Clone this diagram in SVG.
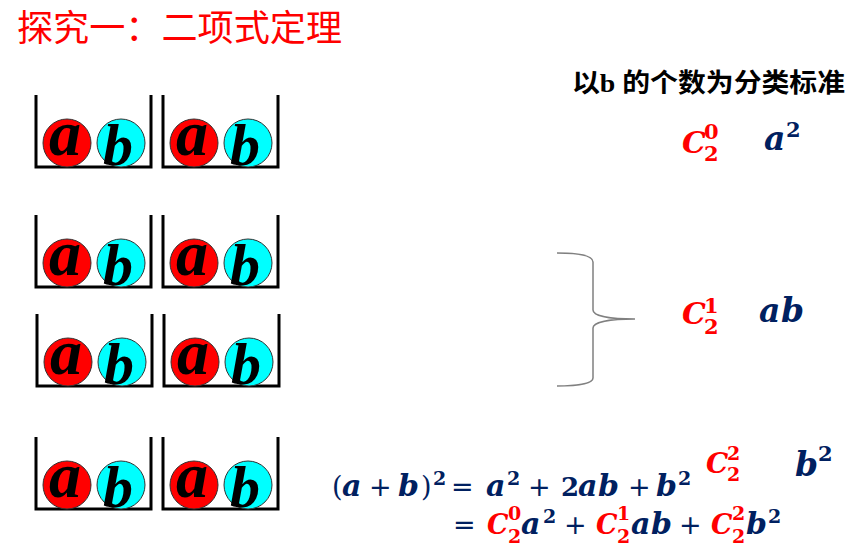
<svg xmlns="http://www.w3.org/2000/svg" xmlns:xlink="http://www.w3.org/1999/xlink" width="860" height="546" viewBox="0 0 860 546">
<style>
.wall{fill:none;stroke:#000;stroke-width:3;stroke-linejoin:miter}
.ra{fill:#ff0000;stroke:#333;stroke-width:1}
.cb{fill:#00ffff;stroke:#333;stroke-width:1}
.ball{font-family:"Liberation Serif",serif;font-weight:bold;font-style:italic;fill:#000;text-anchor:middle}
.title{font-family:"Noto Sans CJK SC",sans-serif;font-size:36px;fill:#ff0000}
.note{font-family:"Liberation Serif","Noto Sans CJK SC",serif;font-weight:bold;font-size:26px;fill:#000}
.v{font-family:"DejaVu Serif",serif;font-weight:bold;font-style:italic;fill:#002060}
.d{font-family:"DejaVu Serif",serif;font-weight:bold;fill:#002060}
.o{font-family:"DejaVu Sans",sans-serif;fill:#002060}
.red{fill:#ff0000}
.eq{font-size:27px}
.ev{font-size:30px}
.s{font-size:19px}
.L{font-size:30px}
.Lv{font-size:33px}
.Ls{font-size:21px}
.brace{fill:none;stroke:#808080;stroke-width:1.5}
</style>
<defs>
<g id="cup">
<polyline class="wall" points="0,0 0,72 115,72 115,0"/>
<circle class="ra" cx="31" cy="48" r="24"/>
<circle class="cb" cx="85" cy="48" r="24"/>
<text class="ball" x="29" y="60" font-size="64">a</text>
<text class="ball" x="82" y="70" font-size="60">b</text>
</g>
</defs>
<rect width="860" height="546" fill="#fff"/>
<g id="title"><text class="title" x="17" y="41" textLength="325" lengthAdjust="spacingAndGlyphs">探究一：二项式定理</text></g>
<g id="note"><text class="note" x="572" y="92" textLength="273" lengthAdjust="spacingAndGlyphs">以b 的个数为分类标准</text></g>

<g id="row1">
<use xlink:href="#cup" x="36" y="95"/>
<use xlink:href="#cup" x="163" y="95"/>
</g>
<g id="row2">
<use xlink:href="#cup" x="36" y="215"/>
<use xlink:href="#cup" x="163" y="215"/>
</g>
<g id="row3">
<use xlink:href="#cup" x="37" y="314"/>
<use xlink:href="#cup" x="164" y="314"/>
</g>
<g id="row4">
<use xlink:href="#cup" x="36" y="437"/>
<use xlink:href="#cup" x="163" y="437"/>
</g>

<g id="connectors">
<path class="brace" d="M557,253 C575,253 593,255 593,262 L593,310 C593,316 610,319 635,319 C610,319 593,322 593,328 L593,378 C593,384 575,386 557,386"/>
</g>

<g id="label-c20">
<text class="v L red" x="682" y="153">C</text>
<text class="d Ls red" x="704" y="139">0</text>
<text class="d Ls red" x="704" y="161">2</text>
<text class="v Lv" x="764" y="150">a</text>
<text class="d Ls" x="786" y="137">2</text>
</g>
<g id="label-c21">
<text class="v L red" x="682" y="324">C</text>
<text class="d Ls red" x="704" y="313">1</text>
<text class="d Ls red" x="704" y="334">2</text>
<text class="v Lv" x="759" y="322">a</text>
<text class="v Lv" x="781" y="322">b</text>
</g>
<g id="label-c22">
<text class="v red" x="706" y="473" style="font-size:28px">C</text>
<text class="d s red" x="727" y="460">2</text>
<text class="d s red" x="727" y="481">2</text>
<text class="v Lv" x="795" y="476">b</text>
<text class="d Ls" x="818" y="461">2</text>
</g>

<g id="equation1">
<text class="d eq" x="332" y="496" style="font-weight:normal">(</text>
<text class="v ev" x="342" y="496">a</text>
<text class="o eq" x="369" y="496">+</text>
<text class="v ev" x="398" y="496">b</text>
<text class="d eq" x="421" y="496" style="font-weight:normal">)</text>
<text class="d s" x="433" y="485">2</text>
<text class="o eq" x="451" y="496">=</text>
<text class="v ev" x="486" y="496">a</text>
<text class="d s" x="507" y="485">2</text>
<text class="o eq" x="528" y="496">+</text>
<text class="d eq" x="561" y="496" style="font-size:26px">2</text>
<text class="v ev" x="578" y="496">a</text>
<text class="v ev" x="598" y="496">b</text>
<text class="o eq" x="628" y="496">+</text>
<text class="v ev" x="656" y="496">b</text>
<text class="d s" x="678" y="485">2</text>
</g>
<g id="equation2">
<text class="o eq" x="453" y="534">=</text>
<text class="v eq red" x="487" y="534">C</text>
<text class="d s red" x="508" y="520">0</text>
<text class="d s red" x="508" y="543">2</text>
<text class="v ev" x="521" y="534">a</text>
<text class="d s" x="543" y="523">2</text>
<text class="o eq" x="564" y="534">+</text>
<text class="v eq red" x="596" y="534">C</text>
<text class="d s red" x="617" y="520">1</text>
<text class="d s red" x="617" y="543">2</text>
<text class="v ev" x="631" y="534">a</text>
<text class="v ev" x="651" y="534">b</text>
<text class="o eq" x="679" y="534">+</text>
<text class="v eq red" x="711" y="534">C</text>
<text class="d s red" x="732" y="520">2</text>
<text class="d s red" x="732" y="543">2</text>
<text class="v ev" x="746" y="534">b</text>
<text class="d s" x="768" y="523">2</text>
</g>
</svg>
